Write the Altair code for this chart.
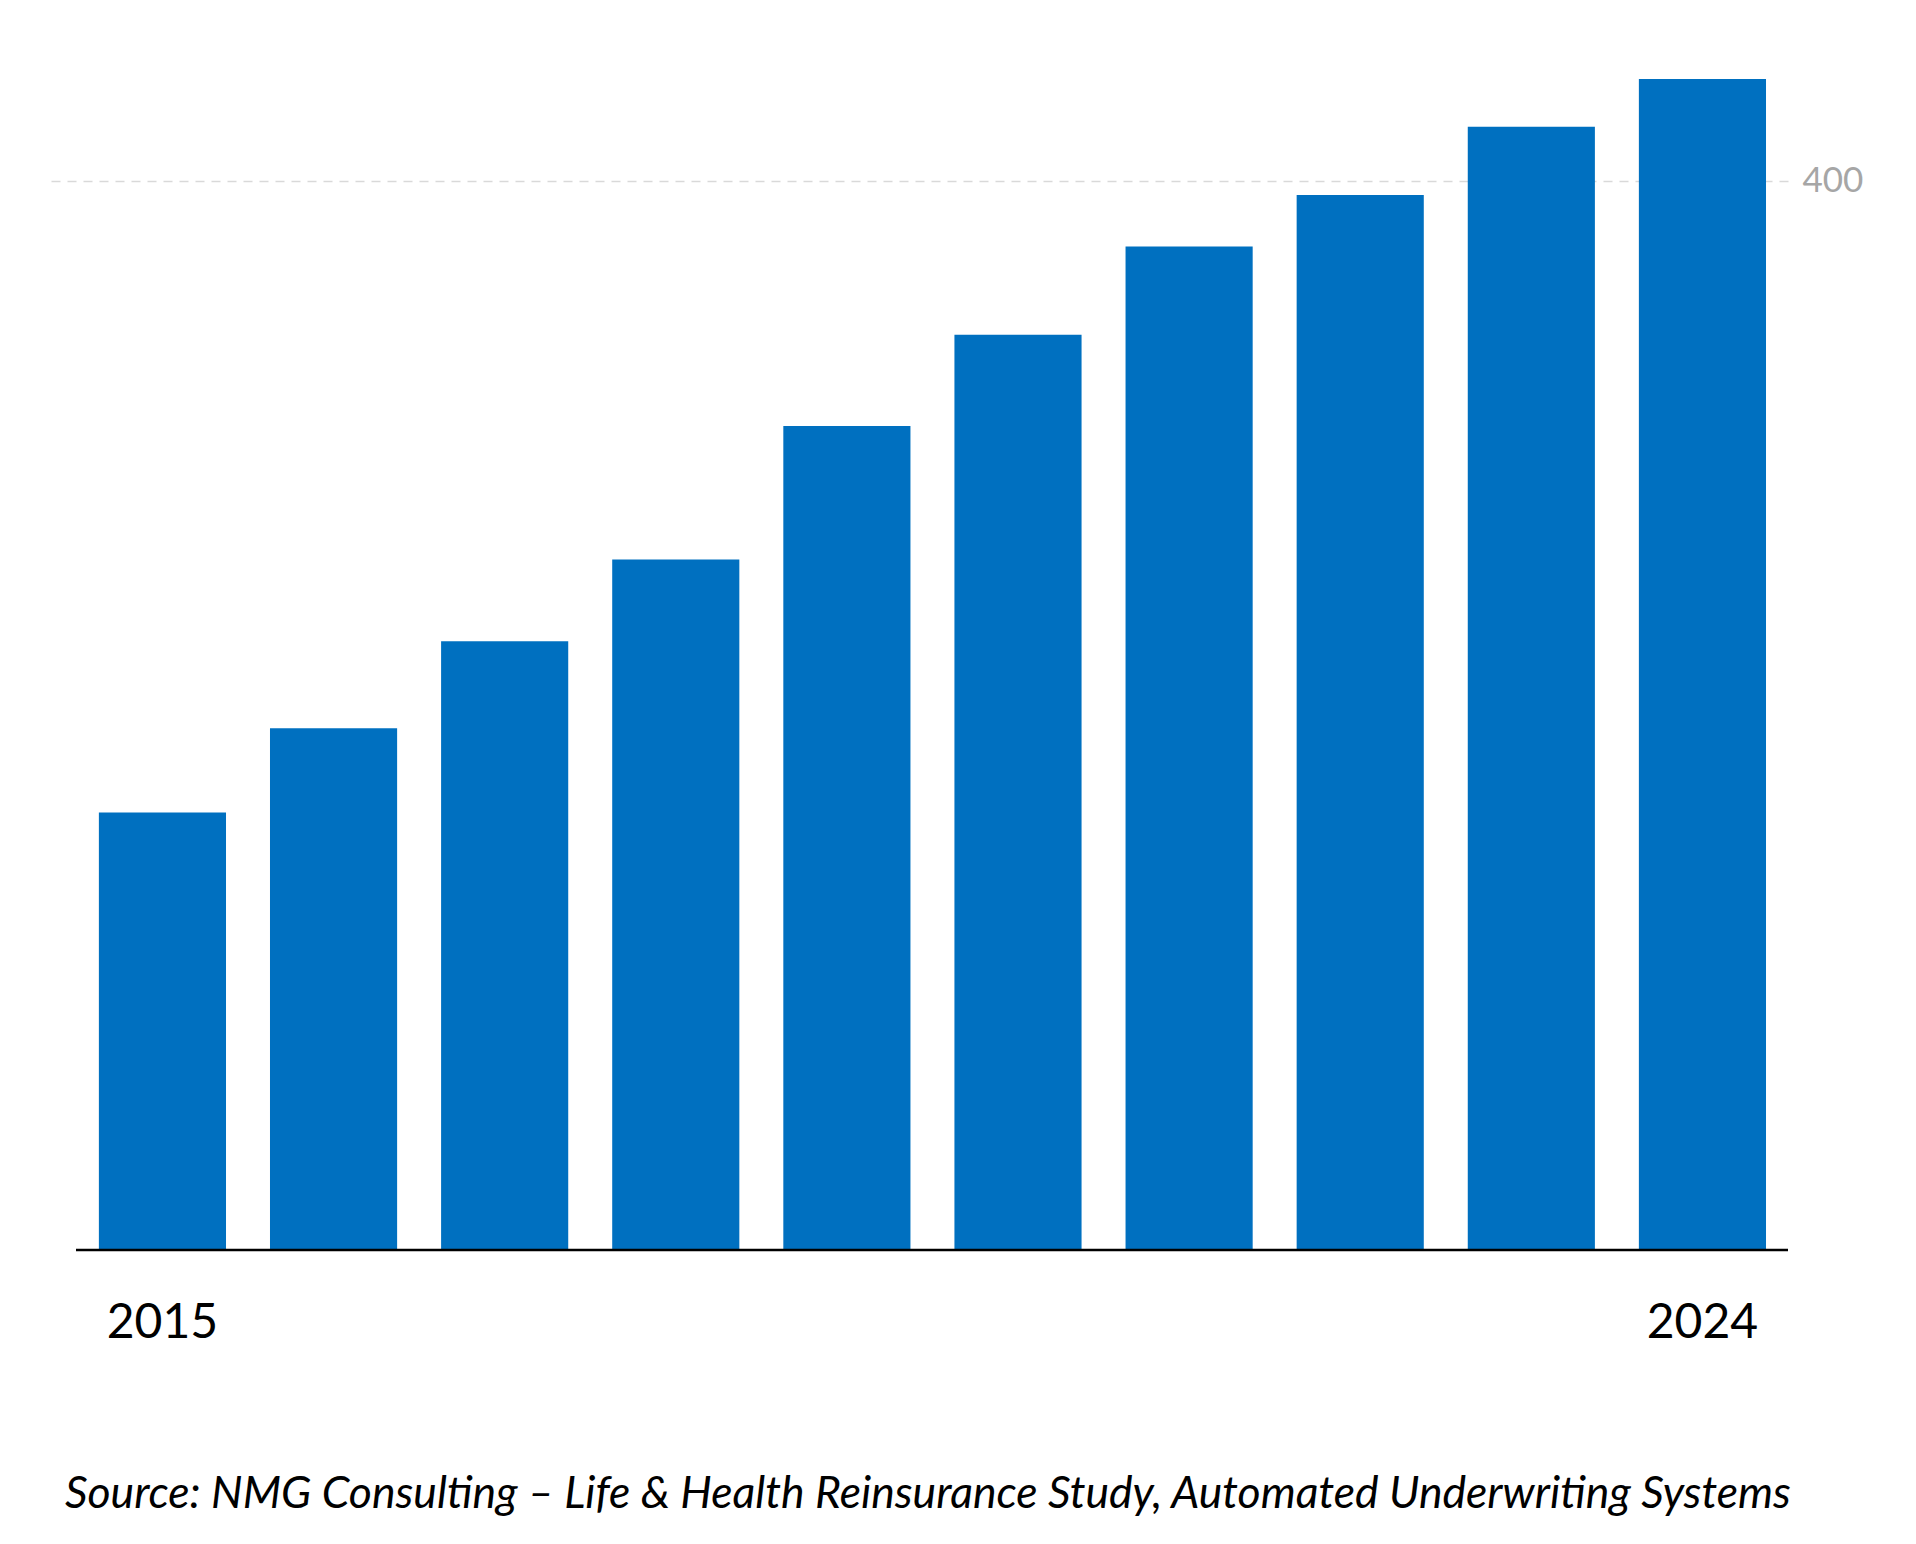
import altair as alt
import pandas as pd

years = ["2015", "2016", "2017", "2018", "2019", "2020", "2021", "2022", "2023", "2024"]
values = [163.7, 195.2, 227.7, 258.3, 308.2, 342.4, 375.4, 394.6, 420.2, 438.0]
shown_labels = ["2015", "2024"]
y_ticks = [400]
source = "Source: NMG Consulting \u2013 Life & Health Reinsurance Study, Automated Underwriting Systems"

df = pd.DataFrame({"year": years, "value": values})
base_df = pd.DataFrame({"v": [0]})

FONT = "Lato"

x_enc = alt.X(
    "year:O",
    sort=years,
    title=None,
    scale=alt.Scale(paddingInner=0.257, paddingOuter=0.21, align=0.694),
    axis=alt.Axis(
        domain=False,
        ticks=False,
        labelAngle=0,
        labelFont=FONT,
        labelFontSize=48,
        labelColor="#000000",
        labelPadding=49,
        labelExpr="indexof(['2015','2024'], datum.label) >= 0 ? datum.label : ''",
    ),
)

bars = alt.Chart(df).mark_bar(color="#0070C0").encode(
    x=x_enc,
    y=alt.Y(
        "value:Q",
        title=None,
        scale=alt.Scale(domain=[0, 450], nice=False),
        axis=alt.Axis(
            orient="right",
            values=y_ticks,
            domain=False,
            ticks=False,
            grid=True,
            gridColor="#d9d9d9",
            gridDash=[9, 7],
            gridWidth=1.5,
            labelFont=FONT,
            labelFontSize=35,
            labelColor="#a6a6a6",
            labelPadding=14,
        ),
    ),
)

baseline = alt.Chart(base_df).mark_rule(color="#000000", strokeWidth=2.5).encode(
    y=alt.Y("v:Q", scale=alt.Scale(domain=[0, 450], nice=False)),
    x=alt.value(27),
    x2=alt.value(1739),
)

chart = (
    alt.layer(bars, baseline)
    .properties(
        width=1739,
        height=1203,
        background="#ffffff",
        padding={"left": 41, "top": 39, "right": 20, "bottom": 20},
        title=alt.TitleParams(
            text=source,
            orient="bottom",
            anchor="start",
            font=FONT,
            fontSize=44.5,
            fontStyle="italic",
            fontWeight="normal",
            color="#000000",
            offset=126,
            dx=16,
        ),
    )
    .configure_view(strokeWidth=0, stroke=None)
)

chart.save("out.html", embed_options={"renderer": "svg", "actions": False})
